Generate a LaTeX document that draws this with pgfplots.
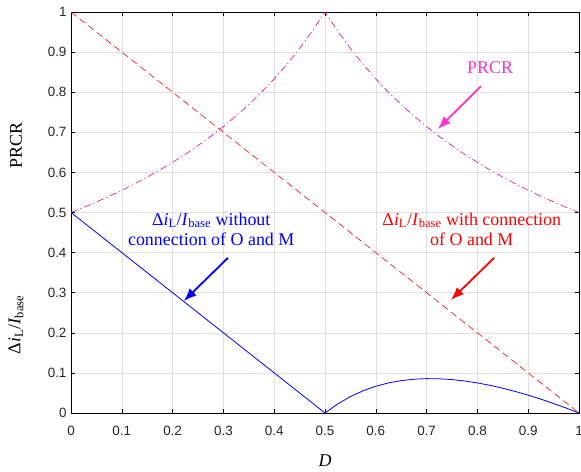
\documentclass[border=0pt]{standalone}
\usepackage{pgfplots}
\pgfplotsset{compat=1.18}
\usepackage{fontspec}
\setmainfont{Liberation Serif}
\newfontfamily\arial{Liberation Sans}
\usetikzlibrary{arrows.meta}
\definecolor{pk}{RGB}{255,51,204}
\newcommand\anfont{\fontsize{18}{21}\selectfont}
\newcommand\dil{Δ\textit{i}\textsubscript{L}/\textit{I}\textsubscript{base}}
\begin{document}
\begin{tikzpicture}
\begin{axis}[name=ax,
  scale only axis, width=508bp, height=401bp,
  xmin=0, xmax=1, ymin=0, ymax=1,
  xtick={0,0.1,...,1}, ytick={0,0.1,...,1},
  xticklabels={0,0.1,0.2,0.3,0.4,0.5,0.6,0.7,0.8,0.9,1},
  yticklabels={0,0.1,0.2,0.3,0.4,0.5,0.6,0.7,0.8,0.9,1},
  tick align=inside, major tick length=4bp,
  grid=major, major grid style={color=black!12, line width=0.5bp},
  axis line style={line width=0.7bp},
  every tick/.style={line width=0.6bp, black},
  tick label style={font=\arial\fontsize{13.5}{15}\selectfont, black!85},
  /pgf/number format/assume math mode=true,
  xticklabel style={yshift=-10bp},
  yticklabel style={xshift=-1bp},
  xlabel={\anfont\textit{D}},
  x label style={at={(axis description cs:0.5,0)}, anchor=center, yshift=-48bp},
  clip=false,
]
\addplot[red, line width=0.6bp, dash pattern=on 7bp off 4bp] coordinates {(0,1) (1,0)};
\addplot[blue, line width=0.8bp] coordinates {
(0,0.5) (0.5,0) (0.525,0.02262) (0.55,0.04091) (0.575,0.05543) (0.6,0.06667)
(0.625,0.075) (0.65,0.08077) (0.675,0.08426) (0.7,0.08571) (0.725,0.08534)
(0.75,0.08333) (0.775,0.07984) (0.8,0.075) (0.825,0.06894) (0.85,0.06176)
(0.875,0.05357) (0.9,0.04444) (0.925,0.03446) (0.95,0.02368) (0.975,0.01218) (1,0)};
\addplot[magenta, line width=0.6bp, dash pattern=on 7bp off 3bp on 1.2bp off 3bp] coordinates {
(0,0.5) (0.025,0.51282) (0.05,0.52632) (0.075,0.54054) (0.1,0.55556) (0.125,0.57143)
(0.15,0.58824) (0.175,0.60606) (0.2,0.625) (0.225,0.64516) (0.25,0.66667)
(0.275,0.68966) (0.3,0.71429) (0.325,0.74074) (0.35,0.76923) (0.375,0.8)
(0.4,0.83333) (0.425,0.86957) (0.45,0.90909) (0.475,0.95238) (0.5,1)
(0.525,0.95238) (0.55,0.90909) (0.575,0.86957) (0.6,0.83333) (0.625,0.8)
(0.65,0.76923) (0.675,0.74074) (0.7,0.71429) (0.725,0.68966) (0.75,0.66667)
(0.775,0.64516) (0.8,0.625) (0.825,0.60606) (0.85,0.58824) (0.875,0.57143)
(0.9,0.55556) (0.925,0.54054) (0.95,0.52632) (0.975,0.51282) (1,0.5)};
% annotations
\node[blue, align=center, font=\anfont] at (axis cs:0.276,0.458)
  {\dil{} without\\connection of O and M};
\draw[blue, line width=1.8bp, -{Latex[length=13bp,width=10bp]}] (axis cs:0.309,0.387) -- (axis cs:0.222,0.279);
\node[pk, font=\anfont] at (axis cs:0.825,0.860) {PRCR};
\draw[pk, line width=1.8bp, -{Latex[length=13bp,width=10bp]}] (axis cs:0.807,0.815) -- (axis cs:0.722,0.708);
\node[red, align=center, font=\anfont] at (axis cs:0.789,0.458)
  {\dil{} with connection\\of O and M};
\draw[red, line width=1.8bp, -{Latex[length=13bp,width=10bp]}] (axis cs:0.833,0.387) -- (axis cs:0.748,0.282);
% y labels
\node[rotate=90, font=\anfont] at ([xshift=-55bp]rel axis cs:0,0.668) {PRCR};
\node[rotate=90, font=\anfont] at ([xshift=-55bp]rel axis cs:0,0.22) {\dil};
\end{axis}
\pgfresetboundingbox
\path ([xshift=-71bp,yshift=-59bp]ax.south west) rectangle ([xshift=2bp,yshift=12bp]ax.north east);
\end{tikzpicture}
\end{document}
